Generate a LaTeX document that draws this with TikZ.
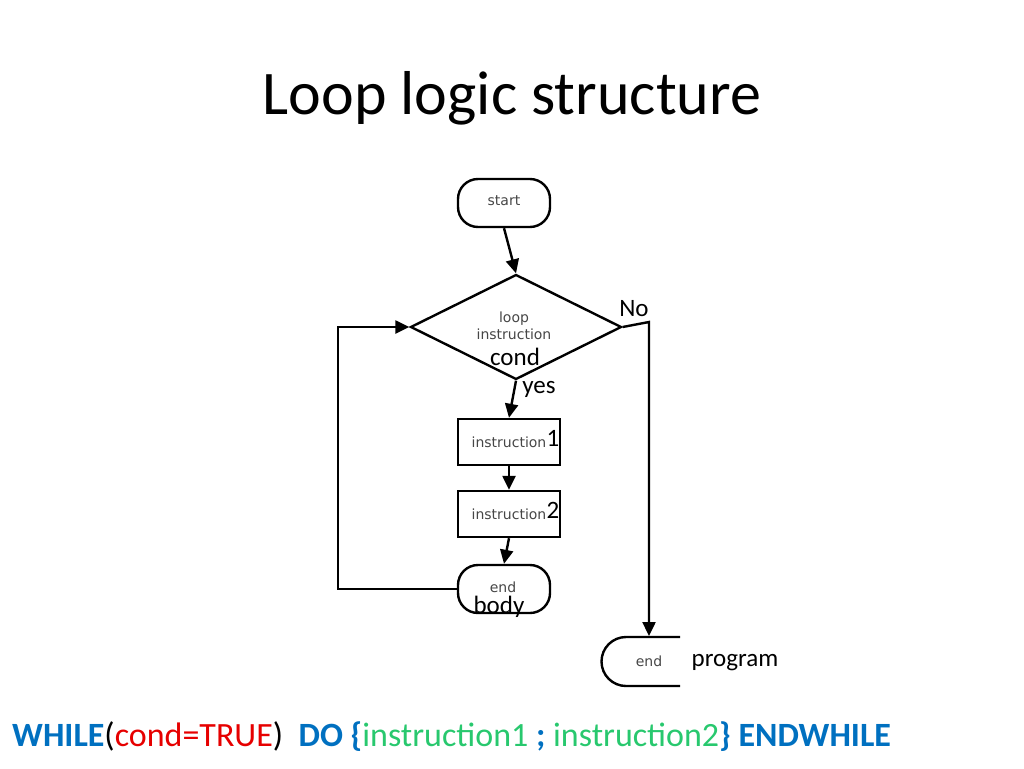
\documentclass[tikz,border=0pt]{standalone}
\usepackage{fontspec}
\setmainfont{Carlito}
\newfontfamily\dv{DejaVu Sans}
\usetikzlibrary{arrows.meta,shapes.geometric}
\definecolor{kwblue}{RGB}{0,112,192}
\definecolor{kwred}{RGB}{230,0,0}
\definecolor{kwgreen}{RGB}{40,200,110}
\definecolor{inner}{RGB}{70,70,70}
\begin{document}
\begin{tikzpicture}[x=1pt,y=-1pt,
  box/.style={draw,line width=2.4pt,minimum width=102pt,minimum height=46pt,inner sep=0pt},
  term/.style={draw,line width=2.4pt,rounded corners=20pt,minimum width=92pt,minimum height=48pt,inner sep=0pt},
  conn/.style={line width=2.4pt,-{Triangle[length=14pt,width=13pt]}},
  small/.style={font=\dv\fontsize{14}{17}\selectfont,text=inner},
  lab/.style={font=\fontsize{25}{28}\selectfont,inner sep=0pt}]
\useasboundingbox (0,0) rectangle (1024,768);
\node[font=\fontsize{62}{66}\selectfont] (title) at (512,98) {Loop logic structure};
\node[term] (start) at (504,203) {};
\node[small] (starttxt) at (504,201) {start};
\node[diamond,draw,line width=2.4pt,minimum width=211pt,minimum height=105pt,inner sep=0pt,aspect=2] (cond) at (516,327) {};
\node[small,align=center] (condtxt) at (514,326) {loop\\instruction};
\node[lab] (condlab) at (515,357) {cond};
\node[box] (i1) at (509,442) {};
\node[small] (i1t) at (509,442) {instruction};
\node[lab] (i1n) at (553,438) {1};
\node[box] (i2) at (509,514) {};
\node[small] (i2t) at (509,514) {instruction};
\node[lab] (i2n) at (553,510) {2};
\node[term] (eb) at (504,589) {};
\node[small] (ebt) at (503,587) {end};
\node[lab] (ebl) at (499,607) {body};
\draw[line width=2.4pt] (680,637) -- (626,637) arc[start angle=90,end angle=270,radius=24.5pt] -- (680,686);
\coordinate (ep) at (649,636);
\node[small] (ept) at (649,661) {end};
\node[lab] (prog) at (735,663) {program};
\node[lab] (no) at (634,309) {No};
\node[lab] (yes) at (539,389) {yes};
\draw[conn] (start.south) -- (cond.north);
\draw[conn] (cond.south) -- (i1.north);
\draw[conn] (i1.south) -- (i2.north);
\draw[conn] (i2.south) -- (eb.north);
\draw[conn] (eb.west) -- (338,589) -- (338,327) -- (cond.west);
\draw[conn] (cond.east) -- (649,322) -- (ep);
\node[font=\fontsize{34}{38}\selectfont\bfseries,anchor=west,inner sep=0pt] (code) at (12,737)
 {\textcolor{kwblue}{WHILE}\textcolor{black}{\mdseries(}\textcolor{kwred}{\mdseries cond=TRUE}\textcolor{black}{\mdseries)}\ \ \textcolor{kwblue}{DO \{}\textcolor{kwgreen}{\mdseries instruction1 }\textcolor{kwblue}{;}\textcolor{kwgreen}{\mdseries\ instruction2}\textcolor{kwblue}{\} ENDWHILE}};
\end{tikzpicture}
\end{document}
